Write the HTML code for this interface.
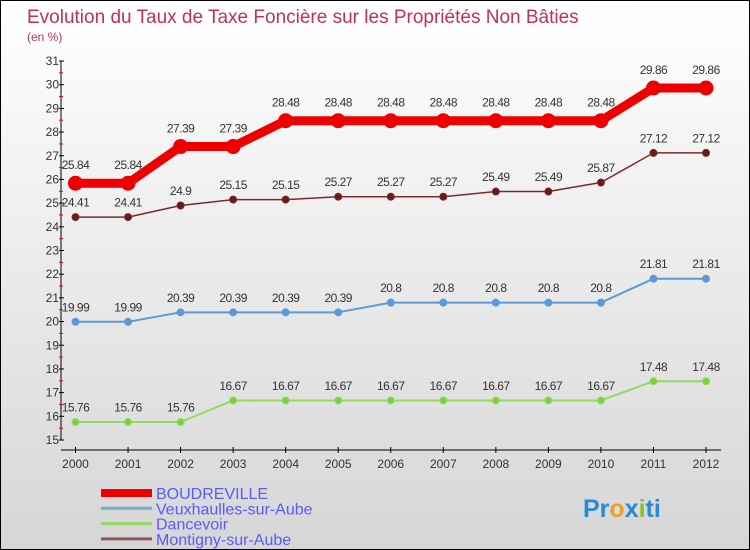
<!DOCTYPE html>
<html><head><meta charset="utf-8"><style>
body{margin:0}
#c{width:748px;height:548px;border:1px solid #000;background:linear-gradient(#ffffff,#d6d6d6);position:relative;overflow:hidden;font-family:"Liberation Sans",sans-serif}
</style></head><body>
<div id="c">
<svg id="s" width="748" height="548"></svg>
</div>
<script>
const years=["2000","2001","2002","2003","2004","2005","2006","2007","2008","2009","2010","2011","2012"];
const boudreville=[25.84,25.84,27.39,27.39,28.48,28.48,28.48,28.48,28.48,28.48,28.48,29.86,29.86];
const veux=[19.99,19.99,20.39,20.39,20.39,20.39,20.8,20.8,20.8,20.8,20.8,21.81,21.81];
const dance=[15.76,15.76,15.76,16.67,16.67,16.67,16.67,16.67,16.67,16.67,16.67,17.48,17.48];
const montigny=[24.41,24.41,24.9,25.15,25.15,25.27,25.27,25.27,25.49,25.49,25.87,27.12,27.12];
const yTicks=[15,16,17,18,19,20,21,22,23,24,25,26,27,28,29,30,31];
const NS="http://www.w3.org/2000/svg";
const s=document.getElementById('s');
function X(i){return 74.5+i*(705-74.5)/12;}
function Y(v){return 439-(v-15)*(379/16);}
function el(t,a,p){const e=document.createElementNS(NS,t);for(const k in a)e.setAttribute(k,a[k]);(p||s).appendChild(e);return e;}
function txt(x,y,str,a){const e=el('text',Object.assign({x:x,y:y},a));e.textContent=str;return e;}
let t=txt(26,22,"Evolution du Taux de Taxe Foncière sur les Propriétés Non Bâties",{fill:"#c0305a","font-size":"19"});

t=txt(26,40,"(en %)",{fill:"#c0305a","font-size":"12"});

// axes
let a=el('line',{x1:60,y1:Y(31),x2:60,y2:Y(15),stroke:"#000"});

a=el('line',{x1:60,y1:449,x2:720,y2:449,stroke:"#000"});

yTicks.forEach(v=>{
 el('line',{x1:58,y1:Y(v),x2:63,y2:Y(v),stroke:"#000"});
 if(v<31) el('line',{x1:58,y1:Y(v+0.5),x2:62,y2:Y(v+0.5),stroke:"#e00"});
 const l=txt(58,Y(v)+4,String(v),{fill:"#333","font-size":"12","text-anchor":"end"});
 
});
years.forEach((y,i)=>{
 el('line',{x1:X(i),y1:446,x2:X(i),y2:452,stroke:"#000"});
 const l=txt(X(i),467,y,{fill:"#333","font-size":"12","text-anchor":"middle"});
 
});
function series(vals,color,w,r,name,dot){
 const g=el('g',{});
 
 el('polyline',{points:vals.map((v,i)=>X(i)+","+Y(v)).join(" "),fill:"none",stroke:color,"stroke-width":w,"stroke-linejoin":"round"},g);
 vals.forEach((v,i)=>{
  const c=el('circle',{cx:X(i),cy:Y(v),r:r,fill:dot,stroke:color,"stroke-width":1},g);
  
  const l=txt(X(i),Y(v)-(r+7),String(v),{fill:"#333","font-size":"12","text-anchor":"middle","letter-spacing":"-0.5"},g);
  
 });
}
series(dance,"#90dc60",2,3.5,"dancevoir","#7cd040");
series(veux,"#5b9bd5",2,3.5,"veuxhaulles","#5b9bd5");
series(montigny,"#7a2a2a",1.5,3.5,"montigny","#6a1a1a");
series(boudreville,"#ee0000",9,7,"boudreville","#ee0000");
// legend
const leg=[["BOUDREVILLE","#ee0000",8],["Veuxhaulles-sur-Aube","#7aaad0",3],["Dancevoir","#90dc60",3],["Montigny-sur-Aube","#8a5a5a",3]];
leg.forEach((d,i)=>{
 const g=el('g',{});
 
 const yy=492+i*15.3;
 el('line',{x1:100,y1:yy,x2:151,y2:yy,stroke:d[1],"stroke-width":d[2]},g);
 txt(155,yy+6,d[0],{fill:"#5a5aff","font-size":"16"},g);
});
// logo
const lg=txt(582,516,"",{"font-size":"25","font-weight":"bold"});

[["Pr","#2a8ad8"],["o","#f0a020"],["x","#2a8ad8"],["i","#88c030"],["ti","#2a8ad8"]].forEach(p=>{const ts=el('tspan',{fill:p[1]},lg);ts.textContent=p[0];});
</script>
</body></html>
